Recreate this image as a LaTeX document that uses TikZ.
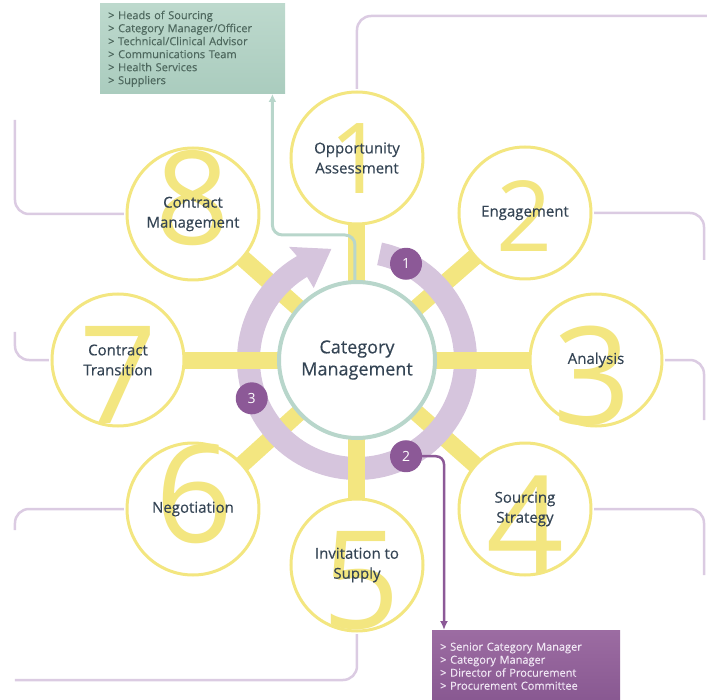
\documentclass[tikz,border=0pt]{standalone}
\usepackage{fontspec}
\setmainfont{Open Sans}
\newfontfamily\labelfont{Open Sans}[BoldFont={Open Sans}, BoldFeatures={FakeBold=0.35}]
\usetikzlibrary{arrows.meta}

\definecolor{stageyellow}{RGB}{243,230,128}
\definecolor{ringlilac}{RGB}{214,197,221}
\definecolor{linklilac}{RGB}{219,203,226}
\definecolor{badgepurple}{RGB}{140,89,151}
\definecolor{hubteal}{RGB}{184,214,203}
\definecolor{labelslate}{RGB}{52,68,84}
\definecolor{greentop}{RGB}{189,217,205}
\definecolor{greenbot}{RGB}{170,204,190}
\definecolor{greentext}{RGB}{78,104,94}
\definecolor{purpletop}{RGB}{156,108,162}
\definecolor{purplebot}{RGB}{136,88,145}
\definecolor{purpletext}{RGB}{240,230,244}

\tikzset{
	stage/.style={circle, draw=stageyellow, line width=3pt, fill=white, minimum size=132pt, inner sep=0pt},
	stagetext/.style={align=center, text=labelslate, font=\labelfont\bfseries\fontsize{15}{20}\selectfont},
	bignum/.style={text=stageyellow, inner sep=0pt},
	spoke/.style={stageyellow, line width=17pt},
	link/.style={linklilac, line width=2.5pt, rounded corners=14pt},
	badge/.style={circle, fill=badgepurple, text=white, minimum size=32pt, inner sep=0pt, font=\fontsize{14}{14}\selectfont},
	rolebox/.style={align=left, inner xsep=8pt, font=\labelfont\bfseries\fontsize{11}{13}\selectfont}
}

\begin{document}
\begin{tikzpicture}[x=1pt,y=1pt]
		\useasboundingbox (-357,-339) rectangle (350,360);
		\coordinate (c) at (0,0);
		\foreach \n/\x/\y in {1/0/202, 2/168/147, 3/239/0, 4/168/-149, 5/0/-205, 6/-164/-149, 7/-239/0, 8/-164/146}{
			\coordinate (p\n) at (\x,\y);
		}
		
		\foreach \n in {2,4,6,8}{
			\draw[spoke] (c) -- (p\n);
		}
		\fill[ringlilac] (78:120) arc[start angle=78, end angle=-240, radius=120] -- (121:132) -- (103:114) -- (121:84) -- (121:97) arc[start angle=121, end angle=438, radius=97] -- cycle;
		\foreach \n in {1,3,5,7}{
			\draw[spoke] (c) -- (p\n);
		}
		
		\node[circle, draw=hubteal, line width=4pt, fill=white, minimum size=156pt, align=center, text=labelslate, font=\labelfont\bfseries\fontsize{18}{22}\selectfont] (hub) at (c) {Category\\Management};
		
		\foreach \n/\dx/\dy/\sz/\txt in {1/1/-1/98/{Opportunity\\Assessment}, 2/0/-3/98/{Engagement}, 3/-4/-16/136/{Analysis}, 4/0/-16/136/{Sourcing\\Strategy}, 5/4/-16/136/{Invitation to\\Supply}, 6/1/15/136/{Negotiation}, 7/0/-15/136/{Contract\\Transition}, 8/0/16/130/{Contract\\Management}}{
			\node[stage] (s\n) at (p\n) {};
			\node[bignum, font=\fontsize{\sz}{\sz}\selectfont] (d\n) at ([shift={(\dx,\dy)}]p\n) {\n};
			\node[stagetext] (t\n) at (p\n) {\txt};
		}
		
		\coordinate (e1) at (370,344);
		\coordinate (e5) at (-342,-320);
		\draw[link, shorten <=1.5pt] (s1.north) |- (e1);
		\draw[link, shorten <=1.5pt] (s5.south) |- (e5);
		\foreach \n/\x/\y/\a in {2/347/100/east, 3/347/-60/east, 4/347/-215/east, 6/-342/-170/west, 7/-342/28/west, 8/-342/240/west}{
			\coordinate (e\n) at (\x,\y);
			\draw[link, shorten <=1.5pt] (s\n.\a) -| (e\n);
		}
		
		\node[rolebox, anchor=south west, inner ysep=7pt, text width=169pt, top color=greentop, bottom color=greenbot, text=greentext] (team) at (-257,266) {> Heads of Sourcing\\> Category Manager/Officer\\> Technical/Clinical Advisor\\> Communications Team\\> Health Services\\> Suppliers};
		\draw[hubteal, line width=3pt, rounded corners=10pt, -{Latex[length=8pt,width=8pt]}] ([xshift=-2pt]hub.north) -- ++(0,45) -| ([xshift=-13pt]team.south east);
		
		\node[badge] (b1) at (63:108) {1};
		\node[badge] (b2) at (-63:108) {2};
		\node[badge] (b3) at (200:112) {3};
		
		\node[rolebox, anchor=north west, inner ysep=7pt, minimum height=72pt, text width=172pt, top color=purpletop, bottom color=purplebot, text=purpletext] (org) at (75,-270) {> Senior Category Manager\\> Category Manager\\> Director of Procurement\\> Procurement Committee};
		\draw[badgepurple, line width=2.5pt, rounded corners=8pt, -{Latex[length=9pt,width=8pt]}] (b2.east) -| ([xshift=12pt]org.north west);
\end{tikzpicture}
\end{document}
